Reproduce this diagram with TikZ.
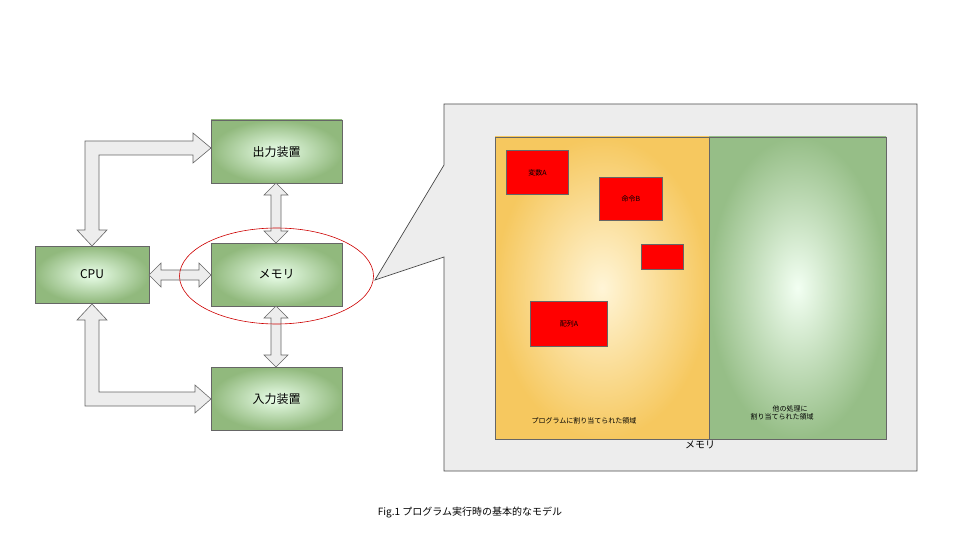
\documentclass[tikz,border=0pt]{standalone}
\usepackage{fontspec}
\setmainfont{Noto Sans CJK JP}
\usetikzlibrary{positioning}

\tikzset{every picture/.style={line width=0.75pt}}
\tikzset{
	unit/.style={draw=black!60, inner color=green!8!white, outer color={rgb,255:red,145;green,185;blue,125}, minimum width=131, minimum height=63, font=\large},
	bigarrow/.style={draw=black!60, fill=black!7, line width=0.6pt},
	cell/.style={draw=black!60, fill=red, font=\tiny, anchor=north west}
}

\begin{document}
\begin{tikzpicture}[x=1pt,y=-1pt]
	\useasboundingbox (0,0) rectangle (960,540);

	% units
	\node [unit] (output) at (276.5,151.5) {出力装置};
	\node [unit] (memory) at (276.5,274.5) {メモリ};
	\node [unit] (input) at (276.5,398.5) {入力装置};
	\node [unit, minimum width=114, minimum height=57] (cpu) at (92,274.5) {CPU};

	% block arrows
	\draw [bigarrow] (92,246) -- (77,230) -- (85,230) -- (85,141) -- (193,141) -- (193,133) -- (211,148) -- (193,163) -- (193,155) -- (99,155) -- (99,230) -- (107,230) -- cycle;
	\draw [bigarrow] (92,304) -- (107,320) -- (99,320) -- (99,392) -- (195,392) -- (195,385) -- (211,399) -- (195,413) -- (195,406) -- (85,406) -- (85,320) -- (77,320) -- cycle;
	\draw [bigarrow] (149,275) -- (161,263) -- (161,270) -- (199,270) -- (199,263) -- (211,275) -- (199,287) -- (199,280) -- (161,280) -- (161,287) -- cycle;
	\draw [bigarrow] (276,183) -- (288,195) -- (281,195) -- (281,231) -- (288,231) -- (276,243) -- (264,231) -- (271,231) -- (271,195) -- (264,195) -- cycle;
	\draw [bigarrow] (276,306) -- (288,318) -- (281,318) -- (281,355) -- (288,355) -- (276,367) -- (264,355) -- (271,355) -- (271,318) -- (264,318) -- cycle;

	% zoom ellipse and callout
	\draw [red!80!black, line width=0.6pt] (276.5,276) ellipse (97 and 48);
	\draw [draw=black!70, fill=black!7] (444,104) -- (917,104) -- (917,471) -- (444,471) -- (444,257) -- (375,280) -- (444,165) -- cycle;

	% memory map
	\fill [inner color={rgb,255:red,255;green,245;blue,215}, outer color={rgb,255:red,246;green,200;blue,95}] (495,137) rectangle (709,439);
	\fill [inner color=green!5!white, outer color={rgb,255:red,150;green,190;blue,135}] (709,137) rectangle (886,439);
	\draw [black!60, line width=0.5pt] (495,137) rectangle (886,439) (709,137) -- (709,439);

	\node [cell, minimum width=62, minimum height=44] (varA) at (506,150) {};
	\node at (varA) [font=\scriptsize] {変数A};
	\node [cell, minimum width=63, minimum height=43] (instB) at (599,177) {};
	\node at (instB) [font=\scriptsize] {命令B};
	\node [cell, minimum width=42, minimum height=25] (blank) at (641,244) {};
	\node [cell, minimum width=77, minimum height=45] (arrA) at (530,301) {};
	\node at (arrA) [font=\scriptsize] {配列A};

	\node [font=\scriptsize] (progArea) at (584,421) {プログラムに割り当てられた領域};
	\node [font=\scriptsize, align=center] (otherArea) at (782,413) {\hspace*{16pt}他の処理に\\割り当てられた領域};
	\node (memLabel) at (700,445) {メモリ};

	% caption
	\node (caption) at (470,512) {Fig.1 プログラム実行時の基本的なモデル};
\end{tikzpicture}
\end{document}
